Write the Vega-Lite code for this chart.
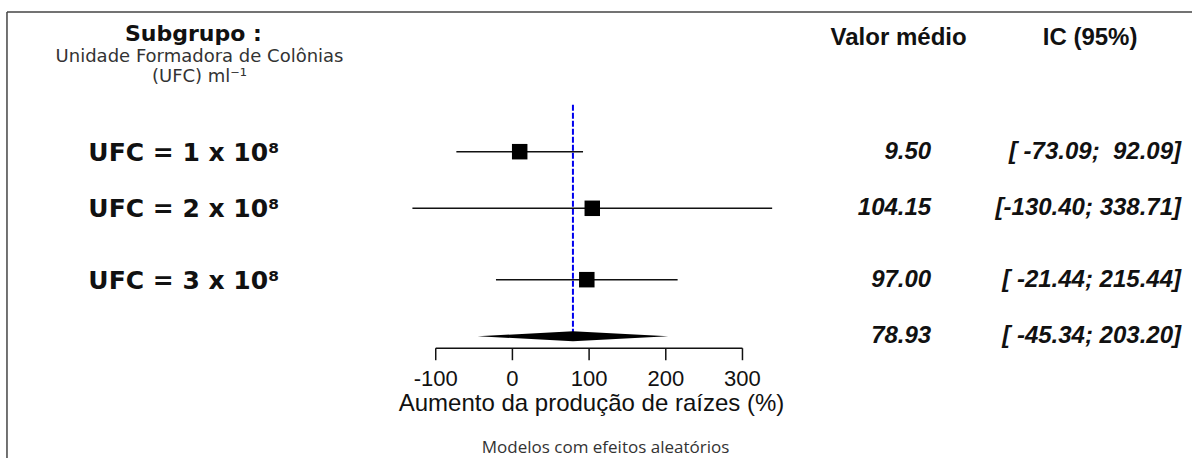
{
  "$schema": "https://vega.github.io/schema/vega-lite/v6.json",
  "width": 1193,
  "height": 459,
  "padding": 0,
  "autosize": {"type": "fit", "contains": "padding"},
  "background": "white",
  "config": {"view": {"stroke": null}},
  "datasets": {
    "studies": [
      {"label": "UFC = 1 x 10⁸", "mean": 9.50, "lower": -73.09, "upper": 92.09, "row": 1.0, "meanText": "9.50", "ciText": "[ -73.09;\u00a0 92.09]"},
      {"label": "UFC = 2 x 10⁸", "mean": 104.15, "lower": -130.40, "upper": 338.71, "row": 1.92, "meanText": "104.15", "ciText": "[-130.40; 338.71]"},
      {"label": "UFC = 3 x 10⁸", "mean": 97.00, "lower": -21.44, "upper": 215.44, "row": 3.08, "meanText": "97.00", "ciText": "[ -21.44; 215.44]"}
    ],
    "summary": [
      {"mean": 78.93, "lower": -45.34, "upper": 203.20, "row": 4.0, "meanText": "78.93", "ciText": "[ -45.34; 203.20]"}
    ],
    "diamond": [
      {"x": -45.34, "top": 4.0, "bottom": 4.0},
      {"x": 78.93, "top": 3.919, "bottom": 4.081},
      {"x": 203.20, "top": 4.0, "bottom": 4.0}
    ],
    "ticks": [
      {"v": -100, "t": "-100"},
      {"v": 0, "t": "0"},
      {"v": 100, "t": "100"},
      {"v": 200, "t": "200"},
      {"v": 300, "t": "300"}
    ]
  },
  "layer": [
    {
      "data": {"values": [{"x": -100, "x2": 300, "y": 4.194}]},
      "mark": {"type": "rule", "color": "#111", "strokeWidth": 1.5},
      "encoding": {
        "x": {"field": "x", "type": "quantitative",
          "scale": {"domain": [-668.2, 886.2], "nice": false, "zero": false}, "axis": null},
        "x2": {"field": "x2"},
        "y": {"field": "y", "type": "quantitative", "scale": {"domain": [-1.465, 5.978], "reverse": true, "nice": false, "zero": false}, "axis": null}
      }
    },
    {
      "data": {"name": "ticks"},
      "mark": {"type": "rule", "color": "#111", "strokeWidth": 1.5},
      "encoding": {
        "x": {"field": "v", "type": "quantitative", "axis": null},
        "y": {"datum": 4.194, "type": "quantitative", "axis": null},
        "y2": {"datum": 4.389}
      }
    },
    {
      "data": {"name": "ticks"},
      "mark": {"type": "text", "align": "center", "baseline": "middle", "font": "Liberation Sans", "fontSize": 22, "color": "#111"},
      "encoding": {
        "x": {"field": "v", "type": "quantitative", "axis": null},
        "y": {"datum": 4.7, "type": "quantitative", "axis": null},
        "text": {"field": "t"}
      }
    },
    {
      "data": {"values": [{"text": "Aumento da produção de raízes (%)", "x": 103.1, "y": 5.1}]},
      "mark": {"type": "text", "align": "center", "baseline": "middle", "font": "Liberation Sans", "fontSize": 24, "color": "#111"},
      "encoding": {
        "x": {"field": "x", "type": "quantitative", "axis": null},
        "y": {"field": "y", "type": "quantitative", "axis": null},
        "text": {"field": "text"}
      }
    },
    {
      "data": {"values": [{"x": -659.1, "y": -1.27, "y2": 5.978}]},
      "mark": {"type": "rule", "color": "#444", "strokeWidth": 1.5},
      "encoding": {
        "x": {"field": "x", "type": "quantitative", "axis": null},
        "y": {"field": "y", "type": "quantitative", "axis": null},
        "y2": {"field": "y2"}
      }
    },
    {
      "data": {"values": [{"x": -659.1, "x2": 886.2, "y": -1.27}]},
      "mark": {"type": "rule", "color": "#444", "strokeWidth": 1.5},
      "encoding": {
        "x": {"field": "x", "type": "quantitative", "axis": null},
        "x2": {"field": "x2"},
        "y": {"field": "y", "type": "quantitative", "axis": null}
      }
    },
    {
      "data": {"values": [{"x": 78.93, "y": 0.238, "y2": 4.0}]},
      "mark": {"type": "rule", "color": "#0000ee", "strokeWidth": 2, "strokeDash": [6, 2]},
      "encoding": {
        "x": {"field": "x", "type": "quantitative", "axis": null},
        "y": {"field": "y", "type": "quantitative", "axis": null},
        "y2": {"field": "y2"}
      }
    },
    {
      "data": {"name": "studies"},
      "mark": {"type": "rule", "color": "#111", "strokeWidth": 1.5},
      "encoding": {
        "x": {"field": "lower", "type": "quantitative", "axis": null},
        "x2": {"field": "upper"},
        "y": {"field": "row", "type": "quantitative", "axis": null}
      }
    },
    {
      "data": {"name": "studies"},
      "mark": {"type": "point", "shape": "square", "filled": true, "color": "#000", "opacity": 1, "size": 240},
      "encoding": {
        "x": {"field": "mean", "type": "quantitative", "axis": null},
        "y": {"field": "row", "type": "quantitative", "axis": null}
      }
    },
    {
      "data": {"name": "diamond"},
      "mark": {"type": "area", "color": "#000", "opacity": 1},
      "encoding": {
        "x": {"field": "x", "type": "quantitative", "axis": null},
        "y": {"field": "top", "type": "quantitative", "axis": null},
        "y2": {"field": "bottom"}
      }
    },
    {
      "data": {"name": "studies"},
      "mark": {"type": "text", "align": "left", "baseline": "middle", "font": "DejaVu Sans", "fontWeight": "bold", "fontSize": 25, "color": "#111", "dy": 1},
      "encoding": {
        "x": {"datum": -553, "type": "quantitative", "axis": null},
        "y": {"field": "row", "type": "quantitative", "axis": null},
        "text": {"field": "label"}
      }
    },
    {
      "data": {"name": "studies"},
      "mark": {"type": "text", "align": "right", "baseline": "middle", "font": "Liberation Sans", "fontWeight": "bold", "fontStyle": "italic", "fontSize": 24, "color": "#111"},
      "encoding": {
        "x": {"datum": 546.1, "type": "quantitative", "axis": null},
        "y": {"field": "row", "type": "quantitative", "axis": null},
        "text": {"field": "meanText"}
      }
    },
    {
      "data": {"name": "summary"},
      "mark": {"type": "text", "align": "right", "baseline": "middle", "font": "Liberation Sans", "fontWeight": "bold", "fontStyle": "italic", "fontSize": 24, "color": "#111"},
      "encoding": {
        "x": {"datum": 546.1, "type": "quantitative", "axis": null},
        "y": {"field": "row", "type": "quantitative", "axis": null},
        "text": {"field": "meanText"}
      }
    },
    {
      "data": {"name": "studies"},
      "mark": {"type": "text", "align": "right", "baseline": "middle", "font": "Liberation Sans", "fontWeight": "bold", "fontStyle": "italic", "fontSize": 24, "color": "#111"},
      "encoding": {
        "x": {"datum": 871.9, "type": "quantitative", "axis": null},
        "y": {"field": "row", "type": "quantitative", "axis": null},
        "text": {"field": "ciText"}
      }
    },
    {
      "data": {"name": "summary"},
      "mark": {"type": "text", "align": "right", "baseline": "middle", "font": "Liberation Sans", "fontWeight": "bold", "fontStyle": "italic", "fontSize": 24, "color": "#111"},
      "encoding": {
        "x": {"datum": 871.9, "type": "quantitative", "axis": null},
        "y": {"field": "row", "type": "quantitative", "axis": null},
        "text": {"field": "ciText"}
      }
    },
    {
      "data": {"values": [{"text": "Valor médio", "x": 503.6, "y": -0.85}, {"text": "IC (95%)", "x": 753.3, "y": -0.85}]},
      "mark": {"type": "text", "align": "center", "baseline": "middle", "font": "Liberation Sans", "fontWeight": "bold", "fontSize": 24, "color": "#111"},
      "encoding": {
        "x": {"field": "x", "type": "quantitative", "axis": null},
        "y": {"field": "y", "type": "quantitative", "axis": null},
        "text": {"field": "text"}
      }
    },
    {
      "data": {"values": [{"text": "Subgrupo :", "x": -416, "y": -0.913}]},
      "mark": {"type": "text", "align": "center", "baseline": "middle", "font": "DejaVu Sans", "fontWeight": "bold", "fontSize": 22, "color": "#111"},
      "encoding": {
        "x": {"field": "x", "type": "quantitative", "axis": null},
        "y": {"field": "y", "type": "quantitative", "axis": null},
        "text": {"field": "text"}
      }
    },
    {
      "data": {"values": [{"text": "Unidade Formadora de Colônias", "x": -408, "y": -0.535}, {"text": "(UFC) ml⁻¹", "x": -408, "y": -0.215}]},
      "mark": {"type": "text", "align": "center", "baseline": "middle", "font": "DejaVu Sans", "fontSize": 18, "color": "#333"},
      "encoding": {
        "x": {"field": "x", "type": "quantitative", "axis": null},
        "y": {"field": "y", "type": "quantitative", "axis": null},
        "text": {"field": "text"}
      }
    },
    {
      "data": {"values": [{"text": "Modelos com efeitos aleatórios", "x": 121.4, "y": 5.816}]},
      "mark": {"type": "text", "align": "center", "baseline": "middle", "font": "Open Sans", "fontSize": 17, "color": "#333"},
      "encoding": {
        "x": {"field": "x", "type": "quantitative", "axis": null},
        "y": {"field": "y", "type": "quantitative", "axis": null},
        "text": {"field": "text"}
      }
    }
  ]
}
